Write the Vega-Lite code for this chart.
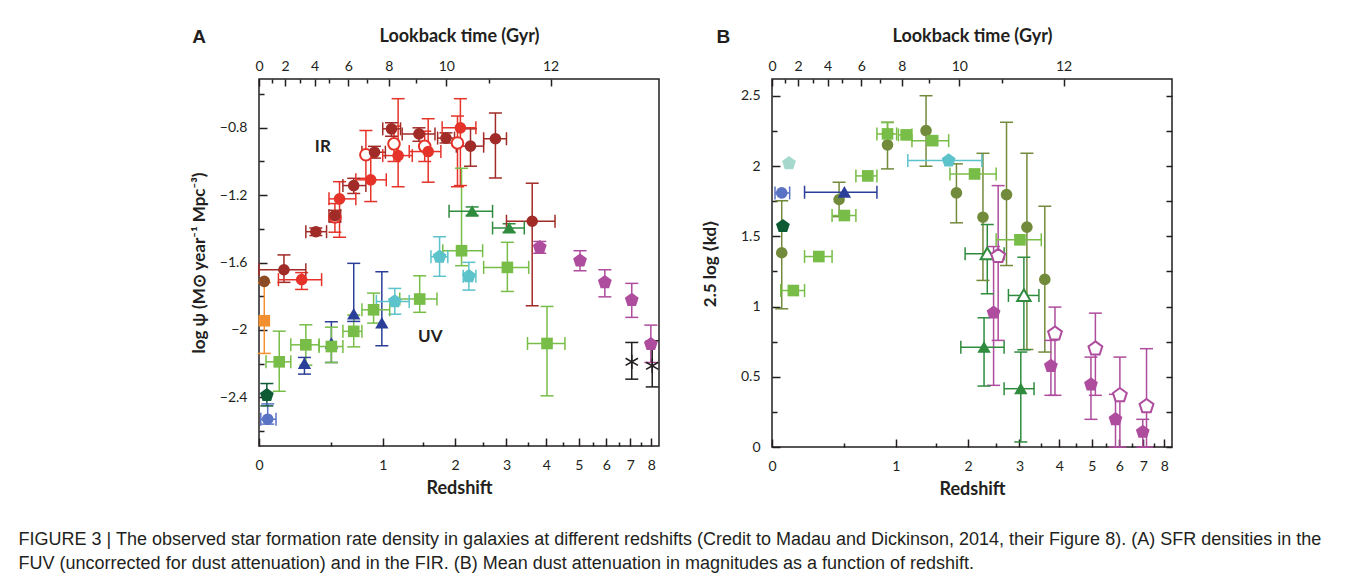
{
  "$schema": "https://vega.github.io/schema/vega-lite/v6.json",
  "background": "white",
  "padding": {"left": 18, "top": 26, "right": 0, "bottom": 0},
  "title": {
    "text": ["FIGURE 3 | The observed star formation rate density in galaxies at different redshifts (Credit to Madau and Dickinson, 2014, their Figure 8). (A) SFR densities in the", "FUV (uncorrected for dust attenuation) and in the FIR. (B) Mean dust attenuation in magnitudes as a function of redshift."],
    "orient": "bottom", "anchor": "start", "frame": "bounds", "dx": -171, "offset": 32,
    "font": "Liberation Sans", "fontSize": 18, "fontWeight": "normal", "color": "#231f20", "lineHeight": 24
  },
  "datasets": {
    "a": [
      {"g":"dred","z":0.15,"v":-1.643,"zl":0,"zh":0.30,"vl":-1.718,"vh":-1.555},
      {"g":"dred","z":0.375,"v":-1.417,"zl":0.30,"zh":0.46,"vl":-1.44,"vh":-1.395},
      {"g":"dred","z":0.53,"v":-1.322,"zl":0.48,"zh":0.58,"vl":-1.36,"vh":-1.29},
      {"g":"dred","z":0.70,"v":-1.143,"zl":0.60,"zh":0.82,"vl":-1.19,"vh":-1.10},
      {"g":"dred","z":0.91,"v":-0.945,"zl":0.78,"zh":1.03,"vl":-0.98,"vh":-0.91},
      {"g":"dred","z":1.10,"v":-0.806,"zl":1.0,"zh":1.21,"vl":-0.85,"vh":-0.77},
      {"g":"dred","z":1.45,"v":-0.836,"zl":1.23,"zh":1.68,"vl":-0.88,"vh":-0.80},
      {"g":"dred","z":1.85,"v":-0.861,"zl":1.72,"zh":1.99,"vl":-0.89,"vh":-0.83},
      {"g":"dred","z":2.27,"v":-0.909,"zl":2.02,"zh":2.52,"vl":-1.028,"vh":-0.806},
      {"g":"dred","z":2.76,"v":-0.865,"zl":2.52,"zh":3.0,"vl":-1.098,"vh":-0.712},
      {"g":"dred","z":3.62,"v":-1.355,"zl":3.0,"zh":4.25,"vl":-1.857,"vh":-1.129},
      {"g":"redopen","z":0.53,"v":-1.33,"vl":-1.42,"vh":-1.25},
      {"g":"redopen","z":0.82,"v":-0.96,"vl":-1.10,"vh":-0.816},
      {"g":"redopen","z":1.13,"v":-0.895,"vl":-1.0,"vh":-0.79},
      {"g":"redopen","z":1.53,"v":-0.91,"vl":-1.0,"vh":-0.82},
      {"g":"redopen","z":2.04,"v":-0.89,"vl":-1.15,"vh":-0.73},
      {"g":"red","z":0.27,"v":-1.702,"zl":0.115,"zh":0.42,"vl":-1.76,"vh":-1.66},
      {"g":"red","z":0.57,"v":-1.222,"zl":0.48,"zh":0.72,"vl":-1.45,"vh":-1.12},
      {"g":"red","z":0.87,"v":-1.109,"zl":0.72,"zh":1.04,"vl":-1.238,"vh":-0.974},
      {"g":"red","z":1.18,"v":-0.965,"zl":1.0,"zh":1.36,"vl":-1.15,"vh":-0.627},
      {"g":"red","z":1.58,"v":-0.941,"zl":1.32,"zh":1.77,"vl":-1.123,"vh":-0.746},
      {"g":"red","z":2.09,"v":-0.80,"zl":1.79,"zh":2.37,"vl":-1.143,"vh":-0.627},
      {"g":"orange","z":0.03,"v":-1.946,"vl":-2.14,"vh":-1.72},
      {"g":"brown","z":0.03,"v":-1.712},
      {"g":"dgpent","z":0.045,"v":-2.388,"vl":-2.452,"vh":-2.319},
      {"g":"slate","z":0.05,"v":-2.531,"zl":0.01,"zh":0.10,"vl":-2.56,"vh":-2.44},
      {"g":"btri","z":0.29,"v":-2.20,"vl":-2.263,"vh":-2.164},
      {"g":"btri","z":0.50,"v":-2.08,"vl":-2.194,"vh":-1.952},
      {"g":"btri","z":0.70,"v":-1.906,"vl":-1.95,"vh":-1.605},
      {"g":"btri","z":0.99,"v":-1.96,"vl":-2.095,"vh":-1.655},
      {"g":"lgsq","z":0.12,"v":-2.19,"zl":0.04,"zh":0.195,"vl":-2.365,"vh":-2.008},
      {"g":"lgsq","z":0.30,"v":-2.089,"zl":0.195,"zh":0.40,"vl":-2.21,"vh":-1.97},
      {"g":"lgsq","z":0.50,"v":-2.099,"zl":0.40,"zh":0.60,"vl":-2.194,"vh":-1.984},
      {"g":"lgsq","z":0.70,"v":-2.009,"zl":0.60,"zh":0.78,"vl":-2.101,"vh":-1.912},
      {"g":"lgsq","z":0.90,"v":-1.881,"zl":0.78,"zh":1.08,"vl":-1.96,"vh":-1.782},
      {"g":"lgsq","z":1.46,"v":-1.817,"zl":1.2,"zh":1.71,"vl":-1.896,"vh":-1.679},
      {"g":"lgsq","z":2.11,"v":-1.53,"zl":1.8,"zh":2.5,"vl":-1.619,"vh":-1.04},
      {"g":"lgsq","z":3.02,"v":-1.629,"zl":2.52,"zh":3.53,"vl":-1.772,"vh":-1.48},
      {"g":"lgsq","z":4.02,"v":-2.081,"zl":3.5,"zh":4.55,"vl":-2.392,"vh":-1.861},
      {"g":"cyan","z":1.14,"v":-1.831,"zl":0.93,"zh":1.32,"vl":-1.907,"vh":-1.754},
      {"g":"cyan","z":1.75,"v":-1.566,"zl":1.62,"zh":1.88,"vl":-1.682,"vh":-1.447},
      {"g":"cyan","z":2.24,"v":-1.682,"zl":2.14,"zh":2.37,"vl":-1.764,"vh":-1.599},
      {"g":"gtri","z":2.30,"v":-1.296,"zl":1.9,"zh":2.7,"vl":-1.32,"vh":-1.27},
      {"g":"gtri","z":3.06,"v":-1.395,"zl":2.7,"zh":3.42,"vl":-1.42,"vh":-1.37},
      {"g":"mag","z":3.82,"v":-1.51,"vl":-1.545,"vh":-1.475},
      {"g":"mag","z":5.04,"v":-1.589,"vl":-1.649,"vh":-1.53},
      {"g":"mag","z":5.94,"v":-1.718,"vl":-1.804,"vh":-1.643},
      {"g":"mag","z":7.07,"v":-1.823,"vl":-1.926,"vh":-1.724},
      {"g":"mag","z":7.98,"v":-2.085,"vl":-2.194,"vh":-1.972},
      {"g":"star","z":7.07,"v":-2.19,"vl":-2.293,"vh":-2.075},
      {"g":"star","z":8.05,"v":-2.214,"vl":-2.339,"vh":-2.065}
    ],
    "alab": [
      {"z":0.43,"v":-0.915,"lab":"IR"},
      {"z":1.61,"v":-2.04,"lab":"UV"}
    ],
    "b": [
      {"g":"olive","z":0.056,"v":1.383,"vl":0.984,"vh":1.753},
      {"g":"slate","z":0.056,"v":1.809,"zl":0.017,"zh":0.104},
      {"g":"palecyan","z":0.10,"v":2.02},
      {"g":"dgpent","z":0.063,"v":1.572},
      {"g":"lgsq","z":0.127,"v":1.114,"zl":0.05,"zh":0.2},
      {"g":"lgsq","z":0.30,"v":1.356,"zl":0.2,"zh":0.40},
      {"g":"olive","z":0.456,"v":1.762,"vl":1.64,"vh":1.885},
      {"g":"lgsq","z":0.50,"v":1.648,"zl":0.40,"zh":0.60},
      {"g":"btri","z":0.50,"v":1.814,"zl":0.2,"zh":0.80},
      {"g":"lgsq","z":0.71,"v":1.930,"zl":0.6,"zh":0.8},
      {"g":"olive","z":0.91,"v":2.151,"vl":1.98,"vh":2.312},
      {"g":"lgsq","z":0.91,"v":2.229,"zl":0.8,"zh":1.01,"vl":2.229,"vh":2.31},
      {"g":"lgsq","z":1.12,"v":2.222,"zl":1.03,"zh":1.19},
      {"g":"olive","z":1.37,"v":2.253,"vl":1.999,"vh":2.501},
      {"g":"lgsq","z":1.46,"v":2.181,"zl":1.19,"zh":1.69},
      {"g":"cyan","z":1.69,"v":2.039,"zl":1.14,"zh":2.24},
      {"g":"olive","z":1.81,"v":1.809,"vl":1.596,"vh":2.016},
      {"g":"lgsq","z":2.11,"v":1.944,"zl":1.71,"zh":2.51},
      {"g":"olive","z":2.26,"v":1.636,"vl":1.186,"vh":2.091},
      {"g":"olive","z":2.72,"v":1.797,"vl":1.292,"vh":2.312},
      {"g":"olive","z":3.17,"v":1.565,"vl":0.695,"vh":2.091},
      {"g":"lgsq","z":3.01,"v":1.475,"zl":2.51,"zh":3.52},
      {"g":"olive","z":3.61,"v":1.193,"vl":0.676,"vh":1.714},
      {"g":"gtriopen","z":2.34,"v":1.376,"zl":1.95,"zh":2.67,"vl":1.091,"vh":1.584},
      {"g":"magopen","z":2.55,"v":1.359,"vl":0.759,"vh":1.861},
      {"g":"gtriopen","z":3.10,"v":1.079,"zl":2.76,"zh":3.46,"vl":0.693,"vh":1.351},
      {"g":"mag","z":2.46,"v":0.956,"vl":0.439,"vh":1.427},
      {"g":"gtri","z":2.28,"v":0.711,"zl":1.88,"zh":2.67,"vl":0.434,"vh":0.92},
      {"g":"gtri","z":3.03,"v":0.415,"zl":2.67,"zh":3.34,"vl":0.036,"vh":0.676},
      {"g":"magopen","z":3.88,"v":0.807,"vl":0.368,"vh":0.996},
      {"g":"mag","z":3.77,"v":0.576,"vl":0.368,"vh":0.759},
      {"g":"magopen","z":5.12,"v":0.70,"vl":0.368,"vh":0.953},
      {"g":"mag","z":4.97,"v":0.444,"vl":0.197,"vh":0.64},
      {"g":"magopen","z":6.02,"v":0.368,"vl":0,"vh":0.64},
      {"g":"mag","z":5.85,"v":0.197,"vl":0,"vh":0.375},
      {"g":"magopen","z":7.15,"v":0.29,"vl":0,"vh":0.70},
      {"g":"mag","z":6.98,"v":0.107,"vl":0,"vh":0.197}
    ]
  },
  "spacing": 37,
  "hconcat": [
    {
      "width": 400, "height": 367,
      "title": {"text": "A", "anchor": "start", "frame": "bounds", "font": "Liberation Sans", "fontSize": 19, "fontWeight": "bold", "color": "#231f20", "dy": 24, "dx": 2},
      "data": {"name": "a"},
      "resolve": {"axis": {"x": "independent", "y": "independent"}},
      "layer": [
        {"transform": [{"filter": "isValid(datum.vl)"}], "mark": {"type": "rule", "strokeWidth": 1.5},
         "encoding": {"x": {"field": "z", "type": "quantitative", "scale": {"type": "symlog", "constant": 1, "domain": [0, 8.4], "nice": false, "zero": false}, "axis": null},
                      "y": {"field": "vl", "type": "quantitative", "scale": {"domain": [-2.69, -0.51], "nice": false, "zero": false}, "axis": null},
                      "y2": {"field": "vh"},
                      "color": {"field": "g", "type": "nominal", "legend": null, "scale": {"domain": ["red","dred","redopen","brown","orange","dgpent","slate","lgsq","cyan","btri","gtri","gtriopen","mag","magopen","star","olive","palecyan"], "range": ["#e5332a","#a02b27","#e5332a","#8b4b24","#f29030","#0c5b34","#5b73c4","#78bd47","#5cc3ca","#2b3e99","#2f8b3e","#2f8b3e","#ae4c9d","#ae4c9d","#231f20","#728a3b","#a5d9cd"]}}}},
        {"transform": [{"filter": "isValid(datum.vl)"}], "mark": {"type": "tick", "orient": "horizontal", "size": 13, "thickness": 1.5, "opacity": 1},
         "encoding": {"x": {"field": "z", "type": "quantitative", "axis": null}, "y": {"field": "vl", "type": "quantitative", "axis": null}, "color": {"field": "g", "type": "nominal", "legend": null}}},
        {"transform": [{"filter": "isValid(datum.vh)"}], "mark": {"type": "tick", "orient": "horizontal", "size": 13, "thickness": 1.5, "opacity": 1},
         "encoding": {"x": {"field": "z", "type": "quantitative", "axis": null}, "y": {"field": "vh", "type": "quantitative", "axis": null}, "color": {"field": "g", "type": "nominal", "legend": null}}},
        {"transform": [{"filter": "isValid(datum.zl)"}], "mark": {"type": "rule", "strokeWidth": 1.5},
         "encoding": {"x": {"field": "zl", "type": "quantitative", "axis": null}, "x2": {"field": "zh"}, "y": {"field": "v", "type": "quantitative", "axis": null}, "color": {"field": "g", "type": "nominal", "legend": null}}},
        {"transform": [{"filter": "isValid(datum.zl)"}], "mark": {"type": "tick", "orient": "vertical", "size": 13, "thickness": 1.5, "opacity": 1},
         "encoding": {"x": {"field": "zl", "type": "quantitative", "axis": null}, "y": {"field": "v", "type": "quantitative", "axis": null}, "color": {"field": "g", "type": "nominal", "legend": null}}},
        {"transform": [{"filter": "isValid(datum.zh)"}], "mark": {"type": "tick", "orient": "vertical", "size": 13, "thickness": 1.5, "opacity": 1},
         "encoding": {"x": {"field": "zh", "type": "quantitative", "axis": null}, "y": {"field": "v", "type": "quantitative", "axis": null}, "color": {"field": "g", "type": "nominal", "legend": null}}},
        {"transform": [{"filter": "indexof(['redopen','gtriopen','magopen'], datum.g) >= 0"}], "mark": {"type": "point", "filled": true, "fill": "white", "strokeWidth": 2, "size": 135, "opacity": 1},
         "encoding": {"x": {"field": "z", "type": "quantitative", "axis": null}, "y": {"field": "v", "type": "quantitative", "axis": null},
                      "stroke": {"field": "g", "type": "nominal", "legend": null, "scale": {"domain": ["red","dred","redopen","brown","orange","dgpent","slate","lgsq","cyan","btri","gtri","gtriopen","mag","magopen","star","olive","palecyan"], "range": ["#e5332a","#a02b27","#e5332a","#8b4b24","#f29030","#0c5b34","#5b73c4","#78bd47","#5cc3ca","#2b3e99","#2f8b3e","#2f8b3e","#ae4c9d","#ae4c9d","#231f20","#728a3b","#a5d9cd"]}},
                      "shape": {"field": "g", "type": "nominal", "legend": null, "scale": {"domain": ["red","dred","redopen","brown","orange","dgpent","slate","lgsq","cyan","btri","gtri","gtriopen","mag","magopen","star","olive","palecyan"], "range": ["circle","circle","circle","circle","square","M0,-1.25L1.19,-0.39L0.73,1.01L-0.73,1.01L-1.19,-0.39Z","circle","square","M0,-1.25L1.19,-0.39L0.73,1.01L-0.73,1.01L-1.19,-0.39Z","M0,-1.05L1.15,0.95L-1.15,0.95Z","M0,-1.05L1.15,0.95L-1.15,0.95Z","M0,-1.05L1.15,0.95L-1.15,0.95Z","M0,-1.25L1.19,-0.39L0.73,1.01L-0.73,1.01L-1.19,-0.39Z","M0,-1.25L1.19,-0.39L0.73,1.01L-0.73,1.01L-1.19,-0.39Z","M0,-1.3L0,1.3M-1.13,-0.65L1.13,0.65M-1.13,0.65L1.13,-0.65","circle","M0,-1.25L1.19,-0.39L0.73,1.01L-0.73,1.01L-1.19,-0.39Z"]}}}},
        {"transform": [{"filter": "indexof(['redopen','gtriopen','magopen','star'], datum.g) < 0"}], "mark": {"type": "point", "filled": true, "size": 135, "opacity": 1},
         "encoding": {"x": {"field": "z", "type": "quantitative", "axis": {"orient": "bottom", "values": [0,1,2,3,4,5,6,7,8], "format": "d", "title": "Redshift", "titleFontSize": 18, "tickSize": -8, "labelPadding": 20, "titlePadding": 7}},
                      "y": {"field": "v", "type": "quantitative", "axis": {"orient": "left", "values": [-0.8,-1.2,-1.6,-2,-2.4], "format": "~g", "title": "log ψ (M⊙ year⁻¹ Mpc⁻³)", "titleFontSize": 17, "tickSize": -8, "labelPadding": 20, "titlePadding": 11}},
                      "color": {"field": "g", "type": "nominal", "legend": null},
                      "shape": {"field": "g", "type": "nominal", "legend": null}}},
        {"transform": [{"filter": "datum.g == 'star'"}], "mark": {"type": "point", "filled": false, "stroke": "#231f20", "strokeWidth": 1.6, "size": 120, "opacity": 1, "shape": "M0,-1.3L0,1.3M-1.13,-0.65L1.13,0.65M-1.13,0.65L1.13,-0.65"},
         "encoding": {"x": {"field": "z", "type": "quantitative", "axis": null}, "y": {"field": "v", "type": "quantitative", "axis": null}}},
        {"data": {"name": "alab"}, "mark": {"type": "text", "font": "Lato", "fontSize": 17, "fontWeight": "bold", "color": "#231f20"},
         "encoding": {"x": {"field": "z", "type": "quantitative", "axis": null}, "y": {"field": "v", "type": "quantitative", "axis": null}, "text": {"field": "lab"}}},
        {"mark": {"type": "point", "opacity": 0},
         "encoding": {"x": {"field": "z", "type": "quantitative", "axis": {"orient": "bottom", "values": [0.5,1.5,2.5,3.5,4.5,5.5,6.5,7.5], "labels": false, "title": null, "tickSize": -4}}, "y": {"field": "v", "type": "quantitative", "axis": null}}},
        {"mark": {"type": "point", "opacity": 0},
         "encoding": {"x": {"field": "z", "type": "quantitative", "axis": {"orient": "top", "values": [0,0.158,0.365,0.649,1.07,1.855,4.12], "labelExpr": "datum.value < 0.05 ? '0' : datum.value < 0.25 ? '2' : datum.value < 0.5 ? '4' : datum.value < 0.8 ? '6' : datum.value < 1.4 ? '8' : datum.value < 3 ? '10' : '12'", "title": "Lookback time (Gyr)", "titleFontSize": 18, "tickSize": -7, "labelPadding": 13, "titlePadding": 14}}, "y": {"field": "v", "type": "quantitative", "axis": null}}},
        {"mark": {"type": "point", "opacity": 0},
         "encoding": {"x": {"field": "z", "type": "quantitative", "axis": {"orient": "top", "values": [0.076,0.259,0.481,0.834,1.415,2.62], "labels": false, "title": null, "tickSize": -4}}, "y": {"field": "v", "type": "quantitative", "axis": null}}},
        {"mark": {"type": "point", "opacity": 0},
         "encoding": {"x": {"field": "z", "type": "quantitative", "axis": null}, "y": {"field": "v", "type": "quantitative", "axis": {"orient": "left", "values": [-0.6,-1,-1.4,-1.8,-2.2,-2.6], "labels": false, "title": null, "tickSize": -5}}}}
      ]
    },
    {
      "width": 400, "height": 368,
      "title": {"text": "B", "anchor": "start", "frame": "bounds", "font": "Liberation Sans", "fontSize": 19, "fontWeight": "bold", "color": "#231f20", "dy": 24, "dx": 15},
      "data": {"name": "b"},
      "resolve": {"axis": {"x": "independent", "y": "independent"}},
      "layer": [
        {"transform": [{"filter": "isValid(datum.vl)"}], "mark": {"type": "rule", "strokeWidth": 1.5},
         "encoding": {"x": {"field": "z", "type": "quantitative", "scale": {"type": "symlog", "constant": 1, "domain": [0, 8.4], "nice": false, "zero": false}, "axis": null},
                      "y": {"field": "vl", "type": "quantitative", "scale": {"domain": [0, 2.62], "nice": false, "zero": false}, "axis": null},
                      "y2": {"field": "vh"},
                      "color": {"field": "g", "type": "nominal", "legend": null, "scale": {"domain": ["red","dred","redopen","brown","orange","dgpent","slate","lgsq","cyan","btri","gtri","gtriopen","mag","magopen","star","olive","palecyan"], "range": ["#e5332a","#a02b27","#e5332a","#8b4b24","#f29030","#0c5b34","#5b73c4","#78bd47","#5cc3ca","#2b3e99","#2f8b3e","#2f8b3e","#ae4c9d","#ae4c9d","#231f20","#728a3b","#a5d9cd"]}}}},
        {"transform": [{"filter": "isValid(datum.vl)"}], "mark": {"type": "tick", "orient": "horizontal", "size": 13, "thickness": 1.5, "opacity": 1},
         "encoding": {"x": {"field": "z", "type": "quantitative", "axis": null}, "y": {"field": "vl", "type": "quantitative", "axis": null}, "color": {"field": "g", "type": "nominal", "legend": null}}},
        {"transform": [{"filter": "isValid(datum.vh)"}], "mark": {"type": "tick", "orient": "horizontal", "size": 13, "thickness": 1.5, "opacity": 1},
         "encoding": {"x": {"field": "z", "type": "quantitative", "axis": null}, "y": {"field": "vh", "type": "quantitative", "axis": null}, "color": {"field": "g", "type": "nominal", "legend": null}}},
        {"transform": [{"filter": "isValid(datum.zl)"}], "mark": {"type": "rule", "strokeWidth": 1.5},
         "encoding": {"x": {"field": "zl", "type": "quantitative", "axis": null}, "x2": {"field": "zh"}, "y": {"field": "v", "type": "quantitative", "axis": null}, "color": {"field": "g", "type": "nominal", "legend": null}}},
        {"transform": [{"filter": "isValid(datum.zl)"}], "mark": {"type": "tick", "orient": "vertical", "size": 13, "thickness": 1.5, "opacity": 1},
         "encoding": {"x": {"field": "zl", "type": "quantitative", "axis": null}, "y": {"field": "v", "type": "quantitative", "axis": null}, "color": {"field": "g", "type": "nominal", "legend": null}}},
        {"transform": [{"filter": "isValid(datum.zh)"}], "mark": {"type": "tick", "orient": "vertical", "size": 13, "thickness": 1.5, "opacity": 1},
         "encoding": {"x": {"field": "zh", "type": "quantitative", "axis": null}, "y": {"field": "v", "type": "quantitative", "axis": null}, "color": {"field": "g", "type": "nominal", "legend": null}}},
        {"transform": [{"filter": "indexof(['redopen','gtriopen','magopen'], datum.g) >= 0"}], "mark": {"type": "point", "filled": true, "fill": "white", "strokeWidth": 2, "size": 135, "opacity": 1},
         "encoding": {"x": {"field": "z", "type": "quantitative", "axis": null}, "y": {"field": "v", "type": "quantitative", "axis": null},
                      "stroke": {"field": "g", "type": "nominal", "legend": null, "scale": {"domain": ["red","dred","redopen","brown","orange","dgpent","slate","lgsq","cyan","btri","gtri","gtriopen","mag","magopen","star","olive","palecyan"], "range": ["#e5332a","#a02b27","#e5332a","#8b4b24","#f29030","#0c5b34","#5b73c4","#78bd47","#5cc3ca","#2b3e99","#2f8b3e","#2f8b3e","#ae4c9d","#ae4c9d","#231f20","#728a3b","#a5d9cd"]}},
                      "shape": {"field": "g", "type": "nominal", "legend": null, "scale": {"domain": ["red","dred","redopen","brown","orange","dgpent","slate","lgsq","cyan","btri","gtri","gtriopen","mag","magopen","star","olive","palecyan"], "range": ["circle","circle","circle","circle","square","M0,-1.25L1.19,-0.39L0.73,1.01L-0.73,1.01L-1.19,-0.39Z","circle","square","M0,-1.25L1.19,-0.39L0.73,1.01L-0.73,1.01L-1.19,-0.39Z","M0,-1.05L1.15,0.95L-1.15,0.95Z","M0,-1.05L1.15,0.95L-1.15,0.95Z","M0,-1.05L1.15,0.95L-1.15,0.95Z","M0,-1.25L1.19,-0.39L0.73,1.01L-0.73,1.01L-1.19,-0.39Z","M0,-1.25L1.19,-0.39L0.73,1.01L-0.73,1.01L-1.19,-0.39Z","M0,-1.3L0,1.3M-1.13,-0.65L1.13,0.65M-1.13,0.65L1.13,-0.65","circle","M0,-1.25L1.19,-0.39L0.73,1.01L-0.73,1.01L-1.19,-0.39Z"]}}}},
        {"transform": [{"filter": "indexof(['redopen','gtriopen','magopen','star'], datum.g) < 0"}], "mark": {"type": "point", "filled": true, "size": 135, "opacity": 1},
         "encoding": {"x": {"field": "z", "type": "quantitative", "axis": {"orient": "bottom", "values": [0,1,2,3,4,5,6,7,8], "format": "d", "title": "Redshift", "titleFontSize": 18, "tickSize": -8, "labelPadding": 20, "titlePadding": 7}},
                      "y": {"field": "v", "type": "quantitative", "axis": {"orient": "left", "values": [0,0.5,1,1.5,2,2.5], "format": "~g", "title": "2.5 log ⟨kd⟩", "titleFontSize": 17, "tickSize": -8, "labelPadding": 20, "titlePadding": 21}},
                      "color": {"field": "g", "type": "nominal", "legend": null},
                      "shape": {"field": "g", "type": "nominal", "legend": null}}},
        {"mark": {"type": "point", "opacity": 0},
         "encoding": {"x": {"field": "z", "type": "quantitative", "axis": {"orient": "bottom", "values": [0.5,1.5,2.5,3.5,4.5,5.5,6.5,7.5], "labels": false, "title": null, "tickSize": -4}}, "y": {"field": "v", "type": "quantitative", "axis": null}}},
        {"mark": {"type": "point", "opacity": 0},
         "encoding": {"x": {"field": "z", "type": "quantitative", "axis": {"orient": "top", "values": [0,0.158,0.365,0.649,1.07,1.855,4.12], "labelExpr": "datum.value < 0.05 ? '0' : datum.value < 0.25 ? '2' : datum.value < 0.5 ? '4' : datum.value < 0.8 ? '6' : datum.value < 1.4 ? '8' : datum.value < 3 ? '10' : '12'", "title": "Lookback time (Gyr)", "titleFontSize": 18, "tickSize": -7, "labelPadding": 13, "titlePadding": 14}}, "y": {"field": "v", "type": "quantitative", "axis": null}}},
        {"mark": {"type": "point", "opacity": 0},
         "encoding": {"x": {"field": "z", "type": "quantitative", "axis": {"orient": "top", "values": [0.076,0.259,0.481,0.834,1.415,2.62], "labels": false, "title": null, "tickSize": -4}}, "y": {"field": "v", "type": "quantitative", "axis": null}}},
        {"mark": {"type": "point", "opacity": 0},
         "encoding": {"x": {"field": "z", "type": "quantitative", "axis": null}, "y": {"field": "v", "type": "quantitative", "axis": {"orient": "left", "values": [0.25,0.75,1.25,1.75,2.25], "labels": false, "title": null, "tickSize": -5}}}},
        {"mark": {"type": "point", "opacity": 0},
         "encoding": {"x": {"field": "z", "type": "quantitative", "axis": null}, "y": {"field": "v", "type": "quantitative", "axis": {"orient": "right", "values": [0,0.25,0.5,0.75,1,1.25,1.5,1.75,2,2.25,2.5], "labels": false, "title": null, "tickSize": -6}}}}
      ]
    }
  ],
  "config": {
    "view": {"stroke": "#231f20", "strokeWidth": 1.5},
    "axis": {"domain": false, "grid": false, "labelFont": "Lato", "labelFontSize": 14, "labelColor": "#231f20", "tickColor": "#231f20", "tickWidth": 1.5, "titleFont": "Lato", "titleFontSize": 16, "titleFontWeight": "bold", "titleColor": "#231f20", "labelFlush": false, "labelOverlap": false, "labelBound": false}
  }
}
